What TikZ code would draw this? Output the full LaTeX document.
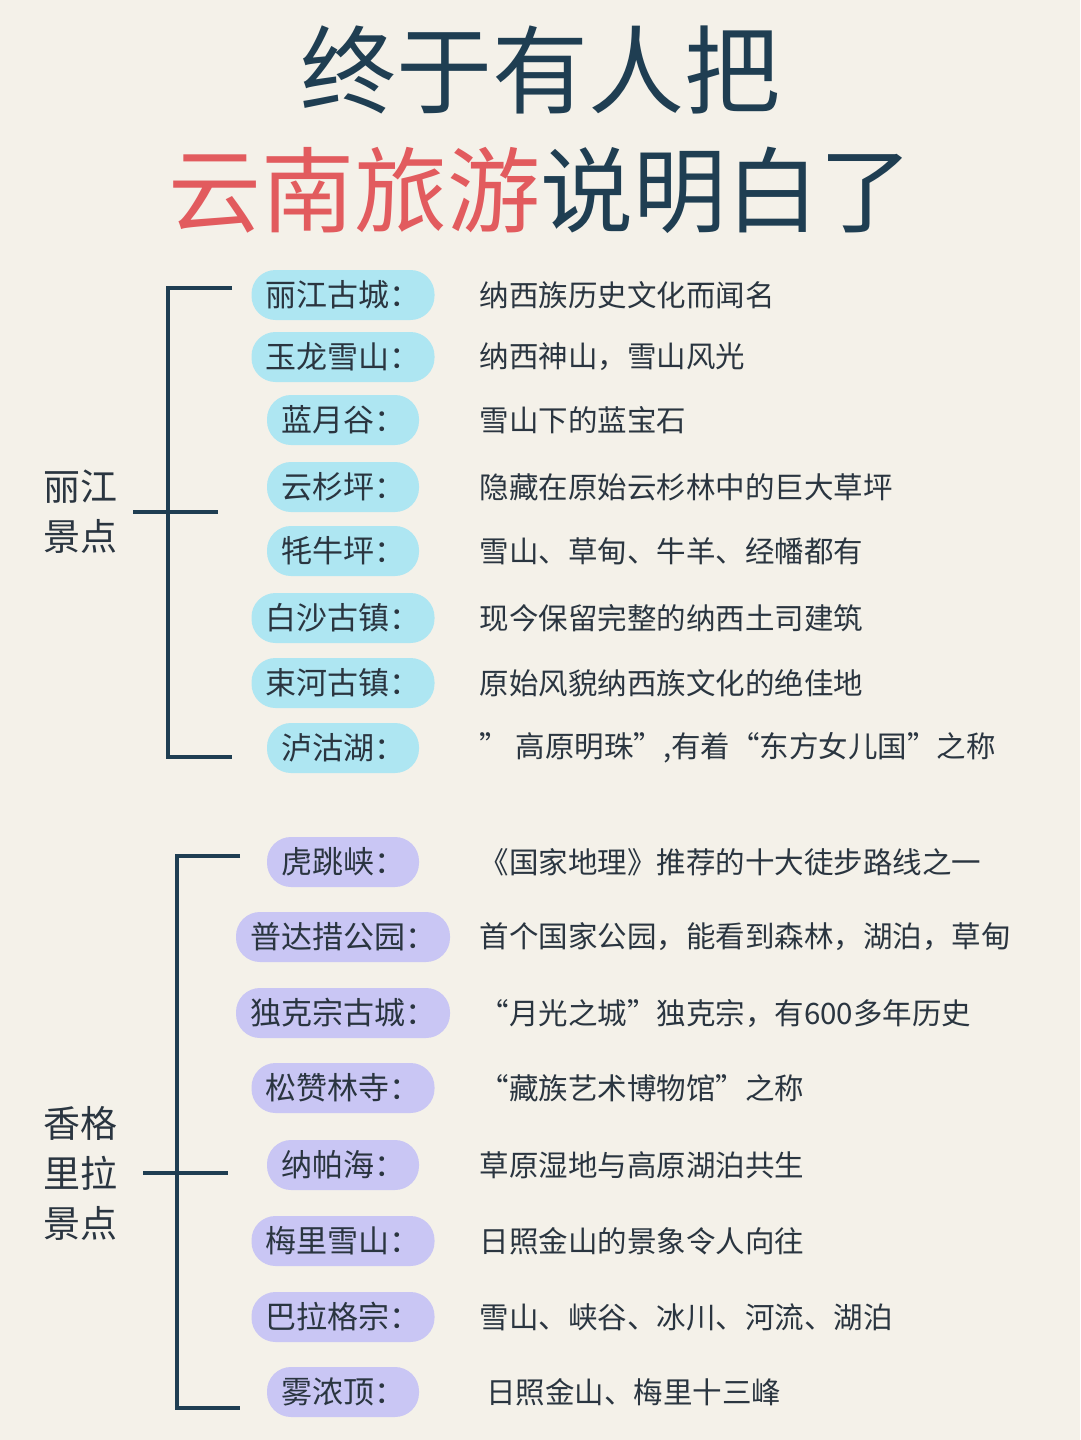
\documentclass[tikz,border=0pt]{standalone}
\usepackage{fontspec}
\setmainfont{Noto Sans CJK SC}
\definecolor{bg}{HTML}{F4F1E9}
\definecolor{navy}{HTML}{1F3E52}
\definecolor{redt}{HTML}{E25B5E}
\definecolor{cyanp}{HTML}{AEE6F2}
\definecolor{lavp}{HTML}{C9C6F4}
\definecolor{txt}{HTML}{2A3540}
\begin{document}
\begin{tikzpicture}[x=1pt,y=-1pt,
  pill/.style={rounded corners=24pt,inner xsep=14pt,minimum height=50pt,font=\fontsize{31}{32}\selectfont,text=txt},
  pa/.style={pill,fill=cyanp},
  pb/.style={pill,fill=lavp},
  desc/.style={anchor=west,font=\fontsize{29.5}{30}\selectfont,text=txt},
  grp/.style={font=\fontsize{37}{50}\selectfont,text=txt,align=center},
  br/.style={draw=navy,line width=4pt}]
\fill[bg] (0,0) rectangle (1080,1440);
\node (t1) at (540,70) {\fontsize{96}{100}\selectfont\color{navy}终于有人把};
\node (t2) at (540,190) {\fontsize{93}{100}\selectfont\color{redt}云南旅游\color{navy}说明白了};
% group 1
\coordinate (a1) at (232,288); \coordinate (a2) at (168,288);
\coordinate (a3) at (168,757); \coordinate (a4) at (232,757);
\coordinate (am1) at (133,512); \coordinate (am2) at (218,512);
\draw[br] (a1)--(a2)--(a3)--(a4);
\draw[br] (am1)--(am2);
\node[grp] (g1) at (80,512) {丽江\\景点};
\foreach \n/\y/\l/\d in {1/295/丽江古城：/纳西族历史文化而闻名,
 2/357/玉龙雪山：/{纳西神山，雪山风光},
 3/420/蓝月谷：/雪山下的蓝宝石,
 4/487/云杉坪：/隐藏在原始云杉林中的巨大草坪,
 5/551/牦牛坪：/雪山、草甸、牛羊、经幡都有,
 6/618/白沙古镇：/现今保留完整的纳西土司建筑,
 7/683/束河古镇：/原始风貌纳西族文化的绝佳地,
 8/748/泸沽湖：/{” 高原明珠”,有着“东方女儿国”之称}}{
 \node[pa] (p\n) at (343,\y) {\l};
 \node[desc] (d\n) at (476,\y) {\d};
}
% group 2
\coordinate (b1) at (240,856); \coordinate (b2) at (177,856);
\coordinate (b3) at (177,1408); \coordinate (b4) at (240,1408);
\coordinate (bm1) at (143,1173); \coordinate (bm2) at (228,1173);
\draw[br] (b1)--(b2)--(b3)--(b4);
\draw[br] (bm1)--(bm2);
\node[grp] (g2) at (80,1173) {香格\\里拉\\景点};
\foreach \n/\y/\l/\d in {1/862/虎跳峡：/《国家地理》推荐的十大徒步路线之一,
 2/937/普达措公园：/{首个国家公园，能看到森林，湖泊，草甸},
 3/1013/独克宗古城：/{“月光之城”独克宗，有600多年历史},
 4/1088/松赞林寺：/“藏族艺术博物馆”之称,
 5/1165/纳帕海：/草原湿地与高原湖泊共生,
 6/1241/梅里雪山：/日照金山的景象令人向往,
 7/1317/巴拉格宗：/雪山、峡谷、冰川、河流、湖泊,
 8/1392/雾浓顶：/{\ 日照金山、梅里十三峰}}{
 \node[pb] (q\n) at (343,\y) {\l};
 \node[desc] (e\n) at (476,\y) {\d};
}
\end{tikzpicture}
\end{document}
